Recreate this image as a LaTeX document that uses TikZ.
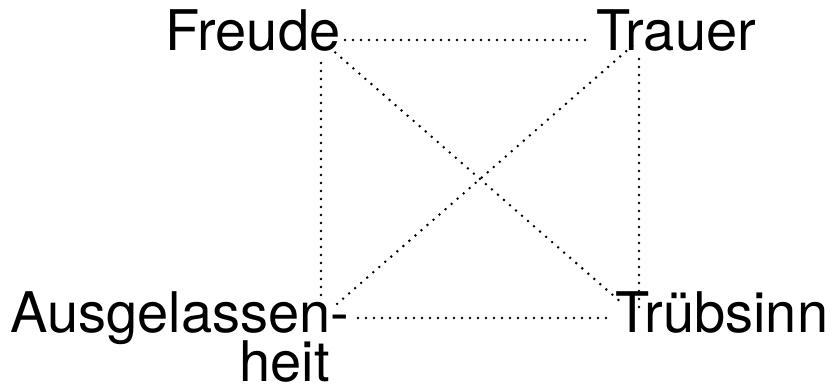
\documentclass[tikz,border=0pt]{standalone}
\usepackage{fontspec}
\setmainfont{TeX Gyre Heros}

\tikzset{every picture/.style={line width=0.75pt}}
\tikzset{
  word/.style={anchor=base west,inner sep=0pt,font=\fontsize{56}{60}\selectfont},
  dotline/.style={line width=2.8pt,line cap=round,dash pattern=on 0pt off 8pt}
}

\begin{document}
\begin{tikzpicture}[x=1pt,y=1pt,yscale=-1,xscale=1]
\useasboundingbox (0,0) rectangle (837,385);

% Text Node
\node[word] (freude) at (165,51) {Freude};
% Text Node
\node[word] (trauer) at (596,51) {Trauer};
% Text Node
\node[word] (ausgel) at (10,332) {Ausgelassen-};
% Text Node
\node[word] (heit) at (239,381) {heit};
% Text Node
\node[word] (truebs) at (615,332) {Trübsinn};

% corners of the square
\coordinate (fq) at (321,40);
\coordinate (tq) at (639,40);
\coordinate (aq) at (321,318);
\coordinate (bq) at (639,318);

%Straight Lines
\draw[dotline,shorten <=24pt,shorten >=47pt] (fq) -- (tq);
\draw[dotline,shorten <=37pt,shorten >=33pt] (aq) -- (bq);
\draw[dotline,shorten <=23pt,shorten >=21pt] (fq) -- (aq);
\draw[dotline,shorten <=19pt,shorten >=6pt] (tq) -- (bq);
%Diagonals
\draw[dotline,shorten <=19pt,shorten >=21pt] (fq) -- (bq);
\draw[dotline,shorten <=9pt,shorten >=19pt] (tq) -- (aq);

\end{tikzpicture}
\end{document}
